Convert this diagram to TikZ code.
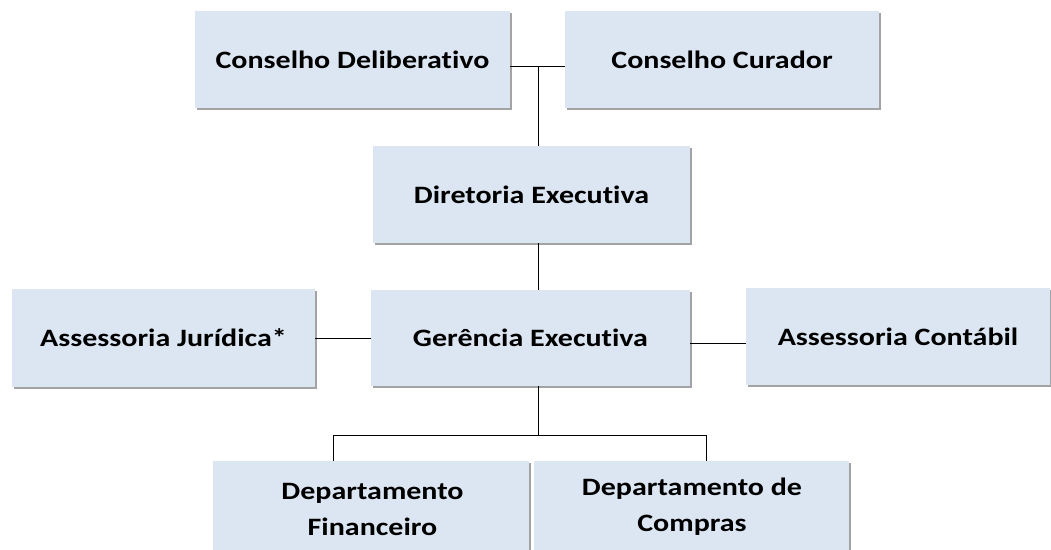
\documentclass[tikz,border=0pt]{standalone}
\usepackage{fontspec}
\setmainfont{Carlito}[Ligatures=NoCommon, FakeStretch=1.2]
\usetikzlibrary{shadows}
\definecolor{boxfill}{HTML}{DCE6F2}
\begin{document}
\begin{tikzpicture}[x=1pt,y=-1pt,
  orgbox/.style={fill=boxfill, draw=none, inner sep=0pt, align=center,
    font=\bfseries\fontsize{25}{36}\selectfont,
    drop shadow={shadow xshift=1.5pt, shadow yshift=-2pt, fill=black!45, opacity=0.8}},
  boxtext/.style={font=\bfseries\fontsize{25}{36}\selectfont, align=center, inner sep=0pt},
  link/.style={draw=black, line width=0.8pt}]
\useasboundingbox (0,0) rectangle (1051,549);
\clip (0,0) rectangle (1051,549);
% boxes
\node[orgbox, minimum width=315, minimum height=97] (cd) at (352.5,59.5) {Conselho Deliberativo};
\node[orgbox, minimum width=314, minimum height=97] (cc) at (722,59.5) {Conselho Curador};
\node[orgbox, minimum width=317, minimum height=97] (de) at (531.5,194.5) {Diretoria Executiva};
\node[orgbox, minimum width=319, minimum height=96] (ge) at (530.5,338) {Gerência Executiva};
\node[orgbox, minimum width=303, minimum height=98] (aj) at (163.5,338) {Assessoria Jurídica*};
\node[orgbox, minimum width=304, minimum height=97] (ac) at (898,336.5) {Assessoria Contábil};
\node[orgbox, minimum width=316, minimum height=110, anchor=north] (df) at (371,461) {};
\node[orgbox, minimum width=315, minimum height=110, anchor=north] (dc) at (691.5,461) {};
\node[boxtext] (dft) at (372.5,509) {Departamento\\Financeiro};
\node[boxtext] (dct) at (692,507) {Departamento de\\Compras};
% connectors
\coordinate (j1) at (538,66);
\coordinate (j2) at (538,435);
\coordinate (l1) at (333,435);
\coordinate (r1) at (706,435);
\draw[link] (cd.east |- j1) -- (cc.west |- j1);
\draw[link] (j1) -- (j1 |- de.north);
\draw[link] (j1 |- de.south) -- (j1 |- ge.north);
\draw[link] (aj.east) -- (ge.west);
\draw[link] (ge.east |- 0,343) -- (ac.west |- 0,343);
\draw[link] (j1 |- ge.south) -- (j2);
\draw[link] (l1 |- df.north) -- (l1) -- (r1) -- (r1 |- dc.north);
\end{tikzpicture}
\end{document}
